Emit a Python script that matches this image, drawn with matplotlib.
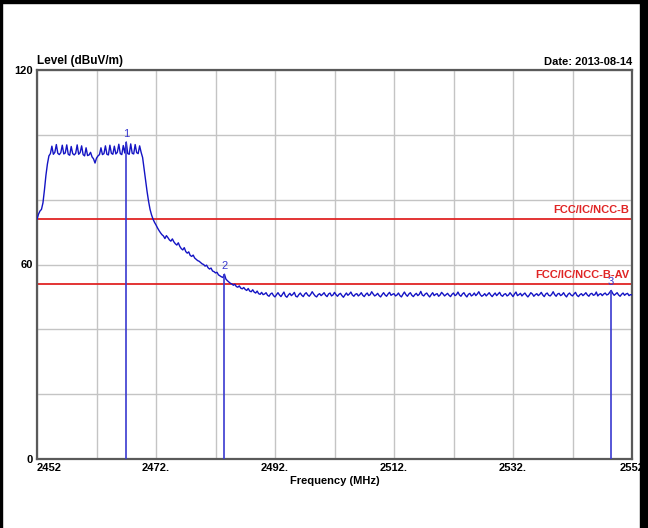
import numpy as np
import matplotlib.pyplot as plt
from matplotlib.patches import Rectangle

# -----------------------------
# Sweep data (2452 - 2552 MHz, 0.25 MHz steps)
# -----------------------------
freq_start = 2452.0
freq_step = 0.25

level = [
    74.0, 75.5, 76.5, 77.0, 79.0, 83.0, 87.5, 91.0, 93.5, 94.2,
    96.5, 94.0, 94.6, 97.0, 94.3, 93.9, 94.5, 96.8, 94.1, 94.4,
    96.9, 94.0, 93.7, 96.4, 94.2, 93.8, 94.3, 96.9, 94.0, 94.5,
    96.6, 93.9, 93.5, 96.0, 93.6, 93.8, 94.6, 93.2, 92.6, 91.3,
    92.8, 93.5, 93.9, 96.0, 93.9, 94.2, 96.6, 94.0, 93.8, 96.8,
    94.3, 94.0, 96.5, 94.1, 94.6, 97.1, 94.2, 93.9, 96.7, 94.4,
    97.8, 94.2, 94.0, 97.2, 94.3, 94.1, 97.0, 94.5, 94.2, 96.6,
    94.6, 93.0, 89.5, 86.0, 82.5, 79.5, 77.0, 75.3, 74.0, 73.0,
    72.2, 71.3, 70.5, 69.8, 69.2, 68.8, 68.0, 68.9, 68.3, 67.6,
    67.2, 67.9, 67.0, 66.4, 66.0, 66.7, 65.6, 64.9, 64.5, 65.2,
    64.0, 63.5, 63.9, 62.8, 62.5, 62.9, 62.0, 61.6, 61.2, 61.0,
    60.6, 60.2, 60.0, 59.5, 59.8, 59.0, 58.6, 58.9, 58.0, 57.8,
    57.4, 57.6, 56.8, 56.5, 56.2, 56.0, 57.0, 55.5, 55.0, 54.6,
    54.2, 54.0, 53.6, 53.9, 53.2, 53.0, 53.4, 52.7, 52.5, 52.9,
    52.3, 52.0, 52.6, 51.8, 51.6, 52.2, 51.5, 51.2, 51.8, 51.0,
    50.8, 51.4, 50.7, 50.9, 51.3, 50.5, 50.2, 50.9, 51.2, 50.4,
    50.0, 50.7, 51.3, 50.6, 50.1, 50.8, 51.5, 50.3, 49.9, 50.6,
    51.1, 50.4, 50.8, 51.4, 50.2, 50.0, 50.7, 51.2, 50.5, 50.1,
    50.9, 51.3, 50.6, 50.2, 50.8, 51.6, 50.9, 50.3, 50.0, 50.7,
    51.0, 50.4, 50.8, 51.3, 50.5, 50.1, 50.9, 51.2, 50.3, 50.6,
    51.4, 50.7, 50.2, 50.8, 51.1, 50.4, 49.9, 50.6, 51.2, 50.5,
    50.9, 51.5, 50.6, 50.2, 50.8, 51.0, 50.3, 50.7, 51.3, 50.5,
    50.1, 50.8, 51.2, 50.4, 50.7, 51.6, 50.9, 50.3, 50.6, 51.1,
    50.4, 50.0, 50.7, 51.3, 50.6, 50.2, 50.9, 51.4, 50.5, 50.8,
    51.0, 50.3, 50.6, 51.2, 50.4, 50.0, 50.8, 51.5, 50.7, 50.2,
    50.9, 51.3, 50.5, 50.1, 50.7, 51.1, 50.4, 50.8, 51.7, 50.6,
    50.3, 50.9, 51.2, 50.5, 50.0, 50.7, 51.3, 50.4, 50.8, 51.0,
    50.2, 50.6, 51.4, 50.9, 50.3, 50.7, 51.1, 50.5, 50.1, 50.8,
    51.2, 50.4, 50.7, 51.5, 50.6, 50.2, 50.9, 51.3, 50.5, 50.0,
    50.8, 51.1, 50.3, 50.6, 51.2, 50.4, 50.9, 51.6, 50.7, 50.2,
    50.5, 51.0, 50.3, 50.8, 51.3, 50.6, 50.1, 50.7, 51.2, 50.4,
    50.9, 51.4, 50.5, 50.2, 50.8, 51.0, 50.3, 50.6, 51.3, 50.7,
    50.1, 50.9, 51.5, 50.4, 50.7, 51.1, 50.3, 50.8, 51.2, 50.5,
    50.0, 50.6, 51.3, 50.9, 50.2, 50.7, 51.0, 50.4, 50.8, 51.4,
    50.6, 50.1, 50.9, 51.2, 50.5, 50.3, 50.8, 51.6, 50.7, 50.2,
    50.9, 51.1, 50.4, 50.7, 51.3, 50.5, 50.0, 50.8, 51.2, 50.6,
    50.3, 50.9, 51.4, 50.5, 50.1, 50.7, 51.0, 50.4, 50.8, 51.3,
    50.6, 50.2, 50.9, 51.1, 50.5, 50.7, 51.5, 50.3, 50.8, 51.0,
    50.4, 50.9, 51.2, 50.6, 50.8, 51.4, 52.0, 51.1, 50.5, 50.9,
    51.3, 50.6, 50.2, 50.8, 51.2, 50.5, 50.9, 51.1, 50.4, 50.7,
    50.6,
]
freq = freq_start + freq_step * np.arange(len(level))

# markers
marker_names = ["1", "2", "3"]
marker_freq = [2467.0, 2483.5, 2548.5]
marker_level = [97.8, 57.0, 52.0]

# limit lines
limit_names = ["FCC/IC/NCC-B", "FCC/IC/NCC-B-AV"]
limit_values = [74, 54]

xtick_values = [2452, 2472, 2492, 2512, 2532, 2552]
xtick_labels = ["2452", "2472.", "2492.", "2512.", "2532.", "2552"]
ytick_values = [0, 60, 120]
ytick_labels = ["0", "60", "120"]
date_text = "Date: 2013-08-14"

plt.rcParams["font.family"] = ["Liberation Sans", "DejaVu Sans"]

fig = plt.figure(figsize=(6.48, 5.28), dpi=100)
fig.patch.set_facecolor("white")
ax = fig.add_axes([37 / 648, 69 / 528, 595 / 648, 389 / 528])

# grid
ax.set_xlim(2452, 2552)
ax.set_ylim(0, 120)
ax.set_xticks(np.arange(2452, 2553, 10), minor=True)
ax.set_yticks(np.arange(0, 121, 20), minor=True)
ax.grid(True, which="both", color="#c4c4c4", linewidth=1.0)
ax.set_axisbelow(True)

# limit lines
for name, val in zip(limit_names, limit_values):
    ax.axhline(val, color="#e02424", linewidth=1.3, zorder=2)
    ax.text(2551.5, val + 1.2, name, color="#e02424", fontsize=8,
            fontweight="bold", ha="right", va="bottom")

# trace
ax.plot(freq, level, color="#1414c4", linewidth=1.0, zorder=3)

# marker lines
ax.vlines(marker_freq, 0, marker_level, color="#3a3ad0", linewidth=1.2, zorder=4)
for name, f, v in zip(marker_names, marker_freq, marker_level):
    ax.text(f, v + 1.0, name, color="#3a3ad0", fontsize=8,
            ha="center", va="bottom", zorder=5)

# axes frame and ticks
for side in ax.spines.values():
    side.set_color("#5a5a5a")
    side.set_linewidth(1.6)
ax.tick_params(which="both", length=0)
ax.set_xticks(xtick_values)
ax.set_xticklabels(xtick_labels, fontsize=8, fontweight="bold")
ax.set_yticks(ytick_values)
ax.set_yticklabels(ytick_labels, fontsize=8, fontweight="bold")
ax.tick_params(axis="x", pad=3)
ax.tick_params(axis="y", pad=3)
xl = ax.get_xticklabels()
xl[0].set_ha("left")
xl[-1].set_ha("center")

ax.set_xlabel("Frequency (MHz)", fontsize=8, fontweight="bold", labelpad=2)
ax.text(0.0, 1.008, "Level (dBuV/m)", transform=ax.transAxes, fontsize=8.5,
        fontweight="bold", ha="left", va="bottom")
ax.text(1.0, 1.008, date_text, transform=ax.transAxes, fontsize=8,
        fontweight="bold", ha="right", va="bottom")

# black edges of the screen capture
fig.patches.append(Rectangle((0, 1 - 3 / 528), 1, 3 / 528, transform=fig.transFigure,
                             color="black", zorder=10))
fig.patches.append(Rectangle((0, 0), 2 / 648, 1, transform=fig.transFigure,
                             color="black", zorder=10))
fig.patches.append(Rectangle((640 / 648, 0), 8 / 648, 1, transform=fig.transFigure,
                             color="black", zorder=10))

plt.savefig("out.png", dpi=100)
